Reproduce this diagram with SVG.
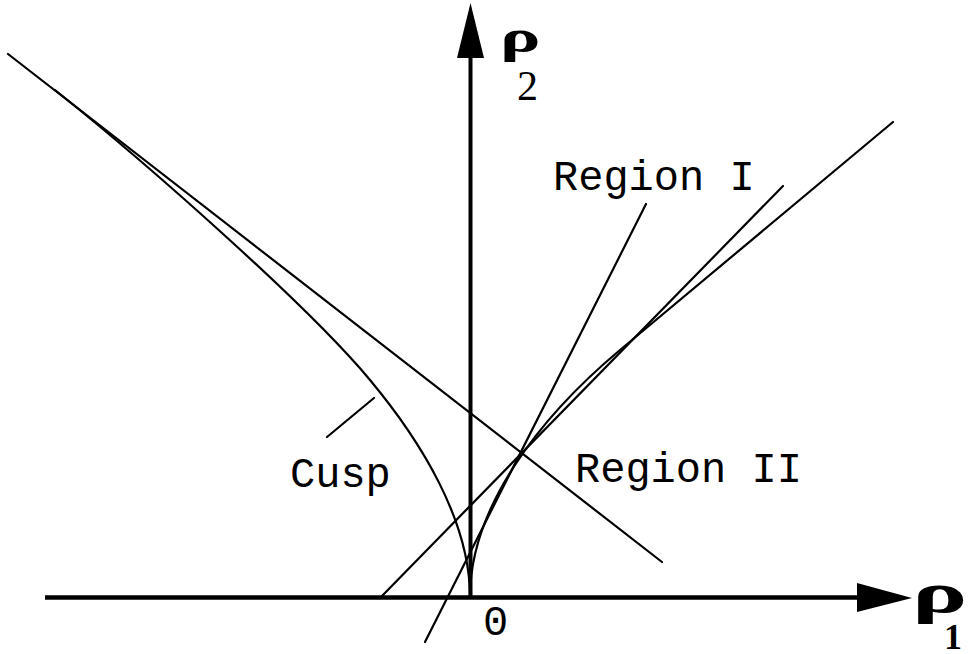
<svg xmlns="http://www.w3.org/2000/svg" width="974" height="654" viewBox="0 0 974 654">
<style>
.ln{fill:none;stroke:#000;stroke-width:2.2;stroke-linecap:round}
.ax{fill:none;stroke:#000;stroke-width:4}
.mono{font-family:"Liberation Mono","Courier New",monospace;font-size:42px;fill:#000}
.greek{font-family:"Liberation Serif","Times New Roman",serif;font-weight:bold;fill:#000}
.sub{font-family:"Liberation Serif","Times New Roman",serif;fill:#000}
</style>
<rect width="974" height="654" fill="#fff"/>
<g id="axes">
<line class="ax" x1="45" y1="597.5" x2="860" y2="597.5" style="stroke-width:4.5"/>
<polygon points="912,598 857,583 857,612" fill="#000"/>
<line class="ax" x1="470.5" y1="599" x2="470.5" y2="55"/>
<polygon points="470.5,3 484,58 457,58" fill="#000"/>
</g>
<g id="connectors">
<line class="ln" x1="8" y1="54" x2="662" y2="562"/>
<line class="ln" x1="381" y1="597" x2="783" y2="186"/>
<line class="ln" x1="425" y1="642" x2="646" y2="204"/>
<line class="ln" x1="327" y1="437" x2="374" y2="398"/>
<path id="cusp-left" class="ln" d="M470,597 C470,520 420,440 370,380 C310,308 155,170 55,90"/>
<path id="cusp-right" class="ln" d="M470,597 C470,507 540,417 620,350 L893,122"/>
</g>
<g id="label-rho2">
<text class="greek" transform="translate(500,52) scale(1.65,1)" font-size="46">ρ</text>
<text class="sub" x="517" y="100" font-size="42">2</text>
</g>
<g id="label-rho1">
<text class="greek" transform="translate(912,612) scale(1.85,1)" font-size="56">ρ</text>
<text class="greek" x="944" y="649" font-size="36">1</text>
</g>
<g id="label-region1"><text class="mono" x="553" y="190">Region I</text></g>
<g id="label-region2"><text class="mono" x="575" y="482">Region II</text></g>
<g id="label-cusp"><text class="mono" x="290" y="487">Cusp</text></g>
<g id="label-zero"><text class="mono" x="483" y="635">0</text></g>
</svg>
